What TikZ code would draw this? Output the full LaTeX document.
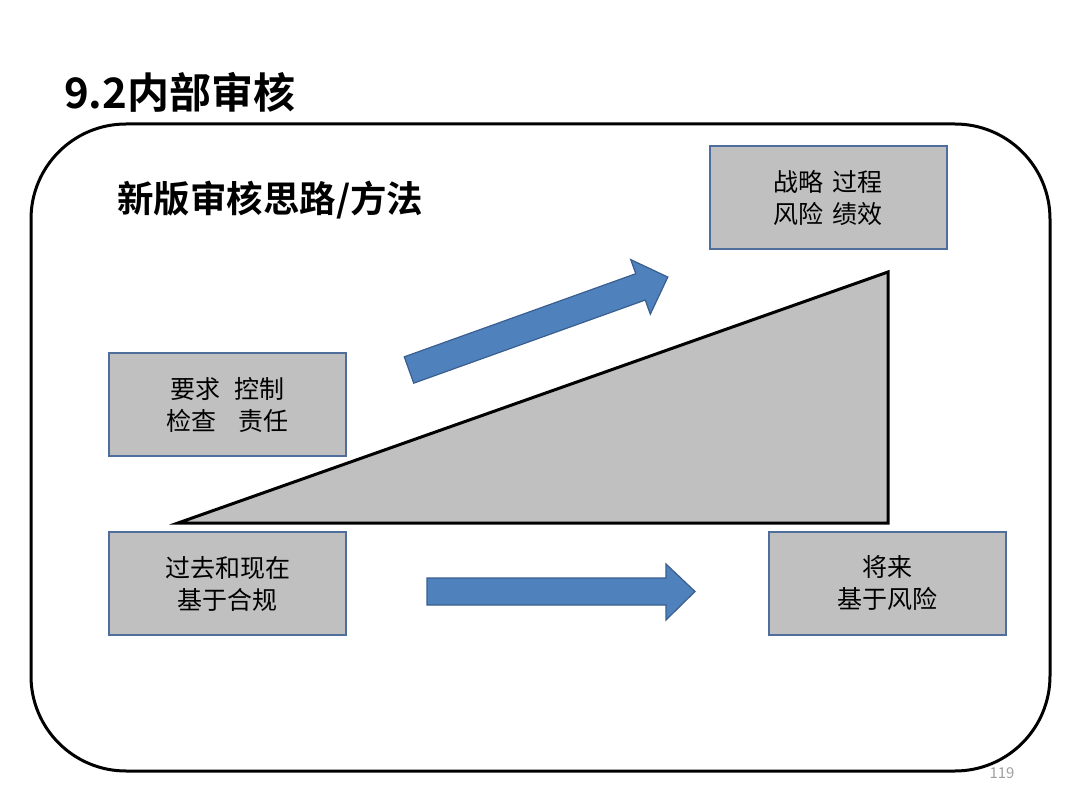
\documentclass[tikz,border=0pt]{standalone}
\usepackage{fontspec}
\newfontfamily\cjk{Noto Sans CJK SC}
\newfontfamily\cjkb{Noto Sans CJK SC Bold}
\definecolor{boxfill}{HTML}{C0C0C0}
\definecolor{boxline}{HTML}{4F6E9C}
\definecolor{arrfill}{HTML}{4F81BD}
\definecolor{arrline}{HTML}{3A5E8E}
\definecolor{pagegray}{HTML}{A0A0A0}
\tikzset{
  infobox/.style={rectangle, draw=boxline, line width=2pt, fill=boxfill,
    minimum width=237pt, minimum height=103pt, align=center, inner sep=0pt,
    font=\cjk\fontsize{25}{32}\selectfont},
  blockarrow/.style={fill=arrfill, draw=arrline, line width=1.2pt, line join=miter},
}
\begin{document}
\begin{tikzpicture}[x=1pt,y=-1pt]
\useasboundingbox (0,0) rectangle (1080,810);
\fill[white] (0,0) rectangle (1080,810);
% title
\node[anchor=west, inner sep=0pt, font=\cjkb\fontsize{42}{48}\selectfont] (title) at (64,92) {9.2内部审核};
% frame
\draw[line width=3pt, rounded corners=95pt] (31,124) rectangle (1050,771);
% subtitle
\node[anchor=west, inner sep=0pt, font=\cjkb\fontsize{36.5}{42}\selectfont] (sub) at (117,200) {新版审核思路/方法};
% triangle
\draw[fill=boxfill, line width=3pt, line join=miter] (178,523) -- (888,272) -- (888,523) -- cycle;
% boxes
\node[infobox] (strat) at (828,198) {战略\hspace{0.4em}过程\\风险\hspace{0.4em}绩效};
\node[infobox] (req) at (227.5,405) {要求\hspace{0.6em}控制\\检查\hspace{0.9em}责任};
\node[infobox] (past) at (227.5,583.5) {过去和现在\\基于合规};
\node[infobox] (future) at (887.5,583.5) {将来\\基于风险};
% diagonal arrow
\begin{scope}[shift={(409,370)}, rotate=19.75]
\draw[blockarrow] (0,-14) -- (246,-14) -- (246,-29) -- (275,0) -- (246,29) -- (246,14) -- (0,14) -- cycle;
\end{scope}
% horizontal arrow
\draw[blockarrow] (427,578) -- (666,578) -- (666,564) -- (695,591.5) -- (666,620) -- (666,605) -- (427,605) -- cycle;
% page number
\node[font=\cjk\fontsize{15}{17}\selectfont, text=pagegray, inner sep=0pt] (pg) at (1002,773) {119};
\end{tikzpicture}
\end{document}
